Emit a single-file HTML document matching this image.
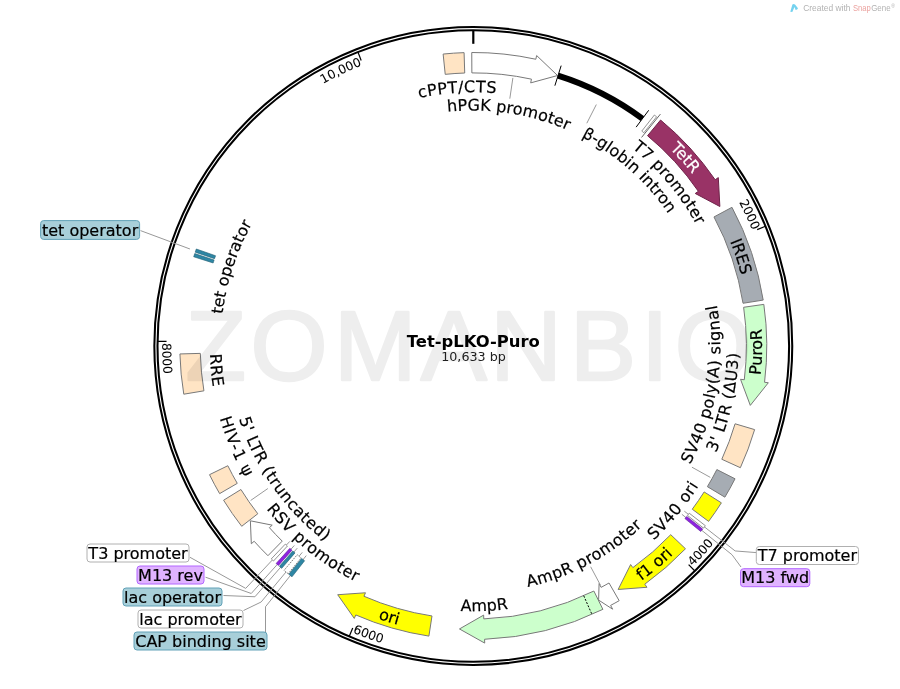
<!DOCTYPE html>
<html><head><meta charset="utf-8"><title>Tet-pLKO-Puro</title>
<style>
html,body{margin:0;padding:0;background:#fff;}
body{width:900px;height:689px;overflow:hidden;}
svg{display:block;font-family:"DejaVu Sans", "Liberation Sans", sans-serif;will-change:transform;}
</style></head>
<body>
<svg width="900" height="689" viewBox="0 0 900 689">
<defs>
<path id="p1" d="M392.79,54.89 A302.04,302.04 0 0 1 648.52,592.02"/>
<path id="p2" d="M307.34,608.98 A310.96,310.96 0 0 0 719.19,155.64"/>
<path id="p3" d="M167.03,292.17 A310.96,310.96 0 0 0 742.69,501.33"/>
<path id="p4" d="M406.96,42.19 A310.96,310.96 0 0 0 431.73,654.17"/>
<path id="p5" d="M182.55,427.78 A302.04,302.04 0 0 1 718.55,169.71"/>
<path id="p6" d="M221.17,317.50 A253.74,253.74 0 0 1 719.98,286.55"/>
<path id="p7" d="M250.19,270.48 A235.54,235.54 0 0 1 708.78,340.66"/>
<path id="p8" d="M326.99,161.41 A235.54,235.54 0 0 1 673.92,469.42"/>
<path id="p9" d="M347.20,125.81 A253.74,253.74 0 0 1 667.11,509.78"/>
<path id="p10" d="M327.35,108.76 A278.54,278.54 0 0 1 691.59,519.01"/>
<path id="p11" d="M432.32,71.81 A277.24,277.24 0 0 1 605.59,589.64"/>
<path id="p12" d="M517.48,631.36 A288.76,288.76 0 0 0 529.39,62.74"/>
<path id="p13" d="M475.46,593.05 A247.06,247.06 0 0 0 555.77,113.11"/>
<path id="p14" d="M461.27,610.99 A265.26,265.26 0 0 0 575.24,101.11"/>
<path id="p15" d="M342.88,576.98 A265.26,265.26 0 0 0 674.85,173.55"/>
<path id="p16" d="M286.53,566.23 A288.76,288.76 0 0 0 724.13,202.93"/>
<path id="p17" d="M278.61,498.11 A247.06,247.06 0 0 0 708.27,269.65"/>
<path id="p18" d="M214.23,402.96 A265.26,265.26 0 0 0 736.23,381.08"/>
<path id="p19" d="M186.82,309.81 A288.76,288.76 0 0 0 730.13,477.99"/>
<path id="p20" d="M243.10,217.87 A263.46,263.46 0 0 0 645.80,545.14"/>
<path id="p21" d="M299.57,172.88 A245.26,245.26 0 0 0 577.34,568.10"/>
<path id="p22" d="M329.81,125.04 A263.46,263.46 0 0 0 532.57,602.71"/>
<path id="p23" d="M403.34,92.00 A263.46,263.46 0 0 0 452.17,608.61"/>
<path id="p24" d="M354.21,569.04 A252.84,252.84 0 0 1 508.93,95.68"/>
</defs>
<circle cx="473.3" cy="346.0" r="318.95" fill="none" stroke="#000" stroke-width="2.05"/>
<circle cx="473.3" cy="346.0" r="315.8" fill="none" stroke="#000" stroke-width="2.05"/>
<line x1="473.30" y1="30.20" x2="473.30" y2="43.80" stroke="#000" stroke-width="2.2"/>
<line x1="765.51" y1="226.24" x2="757.18" y2="229.65" stroke="#000" stroke-width="1.2"/>
<text font-size="12.4" fill="#000" stroke="#000" stroke-width="0.05" font-weight="normal" text-anchor="middle"><textPath href="#p1" startOffset="50%">2000</textPath></text>
<line x1="694.93" y1="570.96" x2="688.62" y2="564.55" stroke="#000" stroke-width="1.2"/>
<text font-size="12.4" fill="#000" stroke="#000" stroke-width="0.05" font-weight="normal" text-anchor="middle"><textPath href="#p2" startOffset="50%">4000</textPath></text>
<line x1="349.19" y1="636.39" x2="352.73" y2="628.11" stroke="#000" stroke-width="1.2"/>
<text font-size="12.4" fill="#000" stroke="#000" stroke-width="0.05" font-weight="normal" text-anchor="middle"><textPath href="#p3" startOffset="50%">6000</textPath></text>
<line x1="157.54" y1="341.29" x2="166.53" y2="341.42" stroke="#000" stroke-width="1.2"/>
<text font-size="12.4" fill="#000" stroke="#000" stroke-width="0.05" font-weight="normal" text-anchor="middle"><textPath href="#p4" startOffset="50%">8000</textPath></text>
<line x1="357.91" y1="52.04" x2="361.20" y2="60.41" stroke="#000" stroke-width="1.2"/>
<text font-size="12.4" fill="#000" stroke="#000" stroke-width="0.05" font-weight="normal" text-anchor="middle"><textPath href="#p5" startOffset="50%">10,000</textPath></text>
<polyline points="684.34,511.18 735.13,550.94 756.30,552.60" fill="none" stroke="#989898" stroke-width="1"/>
<polyline points="681.87,514.29 732.07,554.80 741.00,567.00" fill="none" stroke="#989898" stroke-width="1"/>
<polyline points="289.84,541.36 245.69,588.38 190.00,557.30" fill="none" stroke="#989898" stroke-width="1"/>
<polyline points="294.32,545.48 251.25,593.48 205.50,577.20" fill="none" stroke="#989898" stroke-width="1"/>
<polyline points="297.30,548.11 254.94,596.75 223.50,595.50" fill="none" stroke="#989898" stroke-width="1"/>
<polyline points="302.29,552.35 261.13,602.01 243.50,610.50" fill="none" stroke="#989898" stroke-width="1"/>
<polyline points="306.28,555.59 265.65,606.58 265.50,606.50 265.50,632.00" fill="none" stroke="#989898" stroke-width="1"/>
<polyline points="140.50,230.60 189.95,248.99" fill="none" stroke="#989898" stroke-width="1"/>
<line x1="641.59" y1="137.43" x2="660.43" y2="114.08" stroke="#666" stroke-width="1"/>
<path d="M443.13,54.05 A293.50,293.50 0 0 1 464.08,52.64 L464.72,73.03 A273.10,273.10 0 0 0 445.23,74.35 Z" fill="#ffe4c4" stroke="#787878" stroke-width="1" stroke-linejoin="miter" />
<path d="M471.76,52.50 A293.50,293.50 0 0 1 535.82,59.24 L536.63,55.52 L557.55,75.52 L530.67,82.88 L531.48,79.17 A273.10,273.10 0 0 0 471.87,72.90 Z" fill="#ffffff" stroke="#787878" stroke-width="1" stroke-linejoin="miter" />
<path d="M558.02,75.66 A283.30,283.30 0 0 1 642.41,118.71" fill="none" stroke="#000" stroke-width="6"/>
<line x1="554.88" y1="85.68" x2="561.16" y2="65.64" stroke="#000" stroke-width="1"/>
<line x1="636.14" y1="127.13" x2="648.68" y2="110.29" stroke="#000" stroke-width="1"/>
<path d="M654.40,115.03 A293.50,293.50 0 0 1 656.61,116.78 L643.87,132.72 A273.10,273.10 0 0 0 641.81,131.09 Z" fill="#ffffff" stroke="#777" stroke-width="0.8" stroke-linejoin="miter" />
<path d="M660.58,120.02 A293.50,293.50 0 0 1 715.18,179.76 L718.31,177.61 L719.87,206.50 L695.24,193.47 L698.37,191.31 A273.10,273.10 0 0 0 647.56,135.72 Z" fill="#993366" stroke="#6e2349" stroke-width="1" stroke-linejoin="miter" />
<path d="M731.96,207.31 A293.50,293.50 0 0 1 763.19,300.09 L743.04,303.28 A273.10,273.10 0 0 0 713.98,216.95 Z" fill="#a6acb3" stroke="#787878" stroke-width="1" stroke-linejoin="miter" />
<path d="M763.84,304.39 A293.50,293.50 0 0 1 764.55,382.28 L768.32,382.75 L750.31,405.38 L740.53,379.29 L744.31,379.76 A273.10,273.10 0 0 0 743.64,307.28 Z" fill="#ccffcc" stroke="#787878" stroke-width="1" stroke-linejoin="miter" />
<path d="M754.64,429.60 A293.50,293.50 0 0 1 740.37,467.71 L721.81,459.25 A273.10,273.10 0 0 0 735.09,423.79 Z" fill="#ffe4c4" stroke="#787878" stroke-width="1" stroke-linejoin="miter" />
<path d="M735.04,478.79 A293.50,293.50 0 0 1 724.88,497.16 L707.39,486.66 A273.10,273.10 0 0 0 716.85,469.56 Z" fill="#a6acb3" stroke="#787878" stroke-width="1" stroke-linejoin="miter" />
<path d="M721.38,502.83 A293.50,293.50 0 0 1 708.62,521.40 L692.26,509.21 A273.10,273.10 0 0 0 704.14,491.93 Z" fill="#ffff00" stroke="#787878" stroke-width="1" stroke-linejoin="miter" />
<path d="M705.37,525.69 A293.50,293.50 0 0 1 703.47,528.11 L687.47,515.45 A273.10,273.10 0 0 0 689.24,513.20 Z" fill="#ffffff" stroke="#777" stroke-width="0.8" stroke-linejoin="miter" />
<path d="M702.68,529.11 A293.50,293.50 0 0 1 700.75,531.50 L684.94,518.61 A273.10,273.10 0 0 0 686.73,516.38 Z" fill="#8f22e0" stroke="#5a1a99" stroke-width="0.6" stroke-linejoin="miter" />
<path d="M685.49,548.77 A293.50,293.50 0 0 1 644.78,584.20 L647.00,587.28 L618.15,589.47 L630.64,564.56 L632.86,567.64 A273.10,273.10 0 0 0 670.74,534.68 Z" fill="#ffff00" stroke="#787878" stroke-width="1" stroke-linejoin="miter" />
<path d="M619.16,600.69 A293.50,293.50 0 0 1 610.64,605.39 L612.65,609.19 L598.60,600.08 L599.08,583.56 L601.09,587.36 A273.10,273.10 0 0 0 609.02,582.99 Z" fill="#ffffff" stroke="#787878" stroke-width="1" stroke-linejoin="miter" />
<path d="M602.88,609.35 A293.50,293.50 0 0 1 484.57,639.28 L484.71,643.08 L459.46,628.96 L483.64,615.10 L483.78,618.90 A273.10,273.10 0 0 0 593.88,591.04 Z" fill="#ccffcc" stroke="#787878" stroke-width="1" stroke-linejoin="miter" />
<line x1="583.73" y1="595.78" x2="591.97" y2="614.44" stroke="#000" stroke-width="1" stroke-dasharray="2,1.5"/>
<path d="M428.90,636.12 A293.50,293.50 0 0 1 355.80,614.95 L354.28,618.43 L337.69,594.73 L365.49,592.78 L363.96,596.26 A273.10,273.10 0 0 0 431.99,615.96 Z" fill="#ffff00" stroke="#787878" stroke-width="1" stroke-linejoin="miter" />
<path d="M292.00,576.81 A293.50,293.50 0 0 1 288.79,574.25 L301.62,558.39 A273.10,273.10 0 0 0 304.60,560.76 Z" fill="#2e86a4" stroke="#1f5c70" stroke-width="0.6" stroke-linejoin="miter" />
<path d="M288.20,573.77 A293.50,293.50 0 0 1 284.05,570.34 L297.21,554.75 A273.10,273.10 0 0 0 301.06,557.94 Z" fill="#ffffff" stroke="#555" stroke-width="0.8" stroke-linejoin="miter" stroke-dasharray="1.5,1"/>
<path d="M281.72,568.35 A293.50,293.50 0 0 1 279.40,566.33 L292.87,551.01 A273.10,273.10 0 0 0 295.03,552.89 Z" fill="#2e86a4" stroke="#1f5c70" stroke-width="0.6" stroke-linejoin="miter" />
<path d="M278.44,565.48 A293.50,293.50 0 0 1 276.15,563.43 L289.85,548.31 A273.10,273.10 0 0 0 291.98,550.22 Z" fill="#8f22e0" stroke="#5a1a99" stroke-width="0.6" stroke-linejoin="miter" />
<path d="M273.51,561.00 A293.50,293.50 0 0 1 271.27,558.90 L285.31,544.10 A273.10,273.10 0 0 0 287.40,546.06 Z" fill="#ffffff" stroke="#777" stroke-width="0.8" stroke-linejoin="miter" />
<path d="M267.95,555.70 A293.50,293.50 0 0 1 254.16,541.25 L251.32,543.77 L250.36,520.81 L272.23,525.15 L269.39,527.67 A273.10,273.10 0 0 0 282.22,541.12 Z" fill="#ffffff" stroke="#787878" stroke-width="1" stroke-linejoin="miter" />
<path d="M241.70,526.29 A293.50,293.50 0 0 1 223.59,500.23 L240.94,489.51 A273.10,273.10 0 0 0 257.80,513.76 Z" fill="#ffe4c4" stroke="#787878" stroke-width="1" stroke-linejoin="miter" />
<path d="M219.64,493.64 A293.50,293.50 0 0 1 209.50,474.66 L227.84,465.72 A273.10,273.10 0 0 0 237.27,483.37 Z" fill="#ffe4c4" stroke="#787878" stroke-width="1" stroke-linejoin="miter" />
<path d="M183.78,394.19 A293.50,293.50 0 0 1 179.91,353.94 L200.30,353.39 A273.10,273.10 0 0 0 203.91,390.84 Z" fill="#ffe4c4" stroke="#787878" stroke-width="1" stroke-linejoin="miter" />
<path d="M193.69,256.77 A293.50,293.50 0 0 1 194.74,253.55 L214.10,259.98 A273.10,273.10 0 0 0 213.13,262.97 Z" fill="#2e86a4" stroke="#1f5c70" stroke-width="0.6" stroke-linejoin="miter" />
<path d="M195.20,252.19 A293.50,293.50 0 0 1 196.29,248.99 L215.55,255.74 A273.10,273.10 0 0 0 214.53,258.71 Z" fill="#2e86a4" stroke="#1f5c70" stroke-width="0.6" stroke-linejoin="miter" />
<text font-size="16" fill="#000" stroke="#000" stroke-width="0.2" font-weight="normal" text-anchor="middle" letter-spacing="0.45"><textPath href="#p6" startOffset="50%">cPPT/CTS</textPath></text>
<text font-size="16" fill="#000" stroke="#000" stroke-width="0.2" font-weight="normal" text-anchor="middle" letter-spacing="0.1"><textPath href="#p7" startOffset="50%">hPGK promoter</textPath></text>
<text font-size="16" fill="#000" stroke="#000" stroke-width="0.2" font-weight="normal" text-anchor="middle"><textPath href="#p8" startOffset="50%">β-globin intron</textPath></text>
<text font-size="16" fill="#000" stroke="#000" stroke-width="0.2" font-weight="normal" text-anchor="middle" letter-spacing="0.2"><textPath href="#p9" startOffset="50%">T7 promoter</textPath></text>
<text font-size="16" fill="#fff" stroke="#fff" stroke-width="0.2" font-weight="normal" text-anchor="middle"><textPath href="#p10" startOffset="50%">TetR</textPath></text>
<text font-size="16" fill="#000" stroke="#000" stroke-width="0.2" font-weight="normal" text-anchor="middle"><textPath href="#p11" startOffset="50%">IRES</textPath></text>
<text font-size="16" fill="#000" stroke="#000" stroke-width="0.2" font-weight="normal" text-anchor="middle"><textPath href="#p12" startOffset="50%">PuroR</textPath></text>
<text font-size="16" fill="#000" stroke="#000" stroke-width="0.2" font-weight="normal" text-anchor="middle" letter-spacing="0.5"><textPath href="#p13" startOffset="50%">SV40 poly(A) signal</textPath></text>
<text font-size="16" fill="#000" stroke="#000" stroke-width="0.2" font-weight="normal" text-anchor="middle" letter-spacing="0.5"><textPath href="#p14" startOffset="50%">3' LTR (ΔU3)</textPath></text>
<text font-size="16" fill="#000" stroke="#000" stroke-width="0.2" font-weight="normal" text-anchor="middle" letter-spacing="0.5"><textPath href="#p15" startOffset="50%">SV40 ori</textPath></text>
<text font-size="16" fill="#000" stroke="#000" stroke-width="0.2" font-weight="normal" text-anchor="middle"><textPath href="#p16" startOffset="50%">f1 ori</textPath></text>
<text font-size="16" fill="#000" stroke="#000" stroke-width="0.2" font-weight="normal" text-anchor="middle" letter-spacing="0.35"><textPath href="#p17" startOffset="50%">AmpR promoter</textPath></text>
<text font-size="16" fill="#000" stroke="#000" stroke-width="0.2" font-weight="normal" text-anchor="middle"><textPath href="#p18" startOffset="50%">AmpR</textPath></text>
<text font-size="16" fill="#000" stroke="#000" stroke-width="0.2" font-weight="normal" text-anchor="middle"><textPath href="#p19" startOffset="50%">ori</textPath></text>
<text font-size="16" fill="#000" stroke="#000" stroke-width="0.2" font-weight="normal" text-anchor="middle" letter-spacing="0.45"><textPath href="#p20" startOffset="50%">RSV promoter</textPath></text>
<text font-size="16" fill="#000" stroke="#000" stroke-width="0.2" font-weight="normal" text-anchor="middle" letter-spacing="0.55"><textPath href="#p21" startOffset="50%">5' LTR (truncated)</textPath></text>
<text font-size="16" fill="#000" stroke="#000" stroke-width="0.2" font-weight="normal" text-anchor="middle" letter-spacing="1.0"><textPath href="#p22" startOffset="50%">HIV-1 ψ</textPath></text>
<text font-size="16" fill="#000" stroke="#000" stroke-width="0.2" font-weight="normal" text-anchor="middle" letter-spacing="0.4"><textPath href="#p23" startOffset="50%">RRE</textPath></text>
<text font-size="16" fill="#000" stroke="#000" stroke-width="0.2" font-weight="normal" text-anchor="middle"><textPath href="#p24" startOffset="50%">tet operator</textPath></text>
<line x1="512.89" y1="77.91" x2="509.82" y2="98.68" stroke="#999" stroke-width="1"/>
<line x1="596.33" y1="104.54" x2="586.80" y2="123.25" stroke="#999" stroke-width="1"/>
<line x1="710.32" y1="477.38" x2="691.95" y2="467.20" stroke="#999" stroke-width="1"/>
<line x1="600.53" y1="585.28" x2="590.67" y2="566.74" stroke="#999" stroke-width="1"/>
<line x1="250.63" y1="500.47" x2="267.89" y2="488.50" stroke="#999" stroke-width="1"/>
<rect x="40.6" y="220.6" width="99.0" height="18.80000000000001" rx="3" ry="3" fill="#a8cfd9" stroke="#62a2b8" stroke-width="1"/><text x="90.10" y="235.76" font-size="16" text-anchor="middle" fill="#000" stroke="#000" stroke-width="0.2">tet operator</text>
<rect x="87" y="544" width="102" height="18" rx="3" ry="3" fill="#ffffff" stroke="#b0b0b0" stroke-width="1"/><text x="138.00" y="558.76" font-size="16" text-anchor="middle" fill="#000" stroke="#000" stroke-width="0.2">T3 promoter</text>
<rect x="137" y="566" width="67" height="18" rx="3" ry="3" fill="#e0b3ff" stroke="#b266ff" stroke-width="1"/><text x="170.50" y="580.76" font-size="16" text-anchor="middle" fill="#000" stroke="#000" stroke-width="0.2">M13 rev</text>
<rect x="123" y="588" width="99" height="18" rx="3" ry="3" fill="#a8cfd9" stroke="#62a2b8" stroke-width="1"/><text x="172.50" y="602.76" font-size="16" text-anchor="middle" fill="#000" stroke="#000" stroke-width="0.2">lac operator</text>
<rect x="138" y="610" width="105" height="18" rx="3" ry="3" fill="#ffffff" stroke="#b0b0b0" stroke-width="1"/><text x="190.50" y="624.76" font-size="16" text-anchor="middle" fill="#000" stroke="#000" stroke-width="0.2">lac promoter</text>
<rect x="134" y="632" width="133" height="18" rx="3" ry="3" fill="#a8cfd9" stroke="#62a2b8" stroke-width="1"/><text x="200.50" y="646.76" font-size="16" text-anchor="middle" fill="#000" stroke="#000" stroke-width="0.2">CAP binding site</text>
<rect x="756.3" y="546.5" width="102.20000000000005" height="18.0" rx="3" ry="3" fill="#ffffff" stroke="#b0b0b0" stroke-width="1"/><text x="807.40" y="561.26" font-size="16" text-anchor="middle" fill="#000" stroke="#000" stroke-width="0.2">T7 promoter</text>
<rect x="740.5" y="568.7" width="69.29999999999995" height="18.0" rx="3" ry="3" fill="#e0b3ff" stroke="#b266ff" stroke-width="1"/><text x="775.15" y="583.46" font-size="16" text-anchor="middle" fill="#000" stroke="#000" stroke-width="0.2">M13 fwd</text>
<text x="473.3" y="346.6" font-size="16.4" font-weight="bold" text-anchor="middle">Tet-pLKO-Puro</text>
<text x="473.5" y="361.1" font-size="12.7" text-anchor="middle" fill="#222">10,633 bp</text>
<path d="M790.3,11.8 L792.4,4.4 Q793.7,3.6 795.0,4.4 L798.0,8.2 Q797.5,9.9 795.6,9.9 L794.5,7.0 L792.3,11.9 Z" fill="#74d2ef"/>
<text y="10.7" font-family='"Liberation Sans", sans-serif' font-size="9.2" fill="#b2b2b2"><tspan x="803.2" textLength="47.2" lengthAdjust="spacingAndGlyphs">Created with</tspan> <tspan x="853.0" textLength="17.8" lengthAdjust="spacingAndGlyphs" fill="#eba29f">Snap</tspan><tspan x="871.2" textLength="19.4" lengthAdjust="spacingAndGlyphs">Gene</tspan><tspan x="891.2" y="7.6" font-size="5">®</tspan></text>
<g opacity="0.068"><text y="380.2" x="185.5 250.4 333.9 420.8 490.2 570.0 641.0 674.8" font-family='"Liberation Sans", sans-serif' font-size="99" fill="#000" stroke="#000" stroke-width="2.5" stroke-linejoin="round">ZOMANBIO</text></g>
</svg>
</body></html>
